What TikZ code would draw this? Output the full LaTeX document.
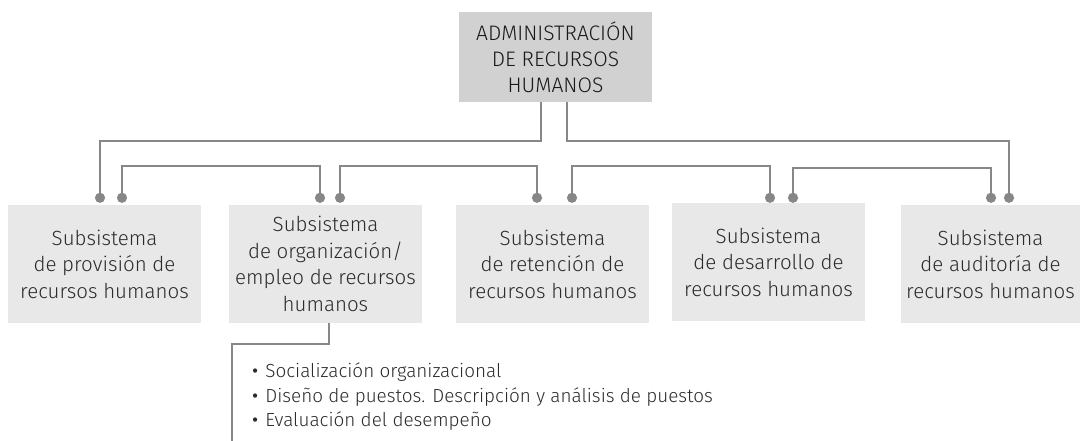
\documentclass[tikz,border=0pt]{standalone}
\usepackage{fontspec}
\setmainfont{Fira Sans Light}
\newfontfamily\bulletfont{Fira Sans}
\usepackage{xcolor}
\usepackage{tikz}
\usetikzlibrary{arrows.meta, positioning, calc}
\definecolor{headgray}{HTML}{D1D1D1}
\definecolor{subgray}{HTML}{E8E8E8}
\definecolor{linkgray}{HTML}{878787}
\definecolor{textgray}{HTML}{2B2B2B}
\newcommand{\taskitem}{{\bulletfont\textbullet}\hspace{7pt}}
\tikzset{
	headbox/.style={fill=headgray, minimum width=193pt, minimum height=90pt, align=center, text=black!90, font=\fontsize{21}{26}\selectfont, inner sep=0pt},
	subbox/.style={fill=subgray, minimum width=193pt, minimum height=118pt, align=center, text=textgray, font=\fontsize{20.5}{26.5}\selectfont, inner sep=0pt},
	linkline/.style={draw=linkgray, line width=2.4pt},
	dotend/.style={-{Circle[length=10pt, fill=linkgray]}},
	dotboth/.style={{Circle[length=10pt, fill=linkgray]}-{Circle[length=10pt, fill=linkgray]}},
}

\begin{document}
\begin{tikzpicture}[x=1pt, y=-1pt]
		\useasboundingbox (0,0) rectangle (1082,441);

		% Head
		\node[headbox] (arh) at (555.5,57) {ADMINISTRACIÓN\\DE RECURSOS\\HUMANOS};

		% Subsystems
		\node[subbox] (prov) at (104.5,264) {Subsistema\\de provisión de\\recursos humanos};
		\node[subbox] (org) at (325.5,264) {Subsistema\\de organización/\\empleo de recursos\\humanos};
		\node[subbox] (ret) at (552.5,264) {Subsistema\\de retención de\\recursos humanos};
		\node[subbox] (des) at (768.5,262) {Subsistema\\de desarrollo de\\recursos humanos};
		\node[subbox, minimum width=179pt] (aud) at (990.5,264) {Subsistema\\de auditoría de\\recursos humanos};

		% Outer links from the head
		\draw[linkline, dotend] ([xshift=-14.5pt]arh.south) -- ++(0,39) -| ([xshift=-4.5pt, yshift=2pt]prov.north);
		\draw[linkline, dotend] ([xshift=11.5pt]arh.south) -- ++(0,39) -| ([xshift=18.5pt, yshift=2pt]aud.north);

		% Inner links
		\draw[linkline, dotboth] ([xshift=17.5pt, yshift=2pt]prov.north) -- ++(0,-37) -| ([xshift=-5.5pt, yshift=2pt]org.north);
		\draw[linkline, dotboth] ([xshift=14.5pt, yshift=2pt]org.north) -- ++(0,-37) -| ([xshift=-15.5pt, yshift=2pt]ret.north);
		\draw[linkline, dotboth] ([xshift=19.5pt, yshift=2pt]ret.north) -- ++(0,-37) -| ([xshift=1.5pt]des.north);
		\draw[linkline, dotboth] ([xshift=24.5pt]des.north) -- ++(0,-35) -| ([xshift=0.5pt, yshift=2pt]aud.north);

		% Task list
		\coordinate (listend) at (232,441);
		\node[anchor=west, align=left, text=textgray, font=\fontsize{18.9}{24.5}\selectfont, inner sep=0pt] (tasks) at (252,397)
			{\taskitem Socialización organizacional\\
			 \taskitem Diseño de puestos. Descripción y análisis de puestos\\
			 \taskitem Evaluación del desempeño};
		\draw[linkline] ([xshift=3.5pt]org.south) -- ++(0,21) -| (listend);
	\end{tikzpicture}
\end{document}
